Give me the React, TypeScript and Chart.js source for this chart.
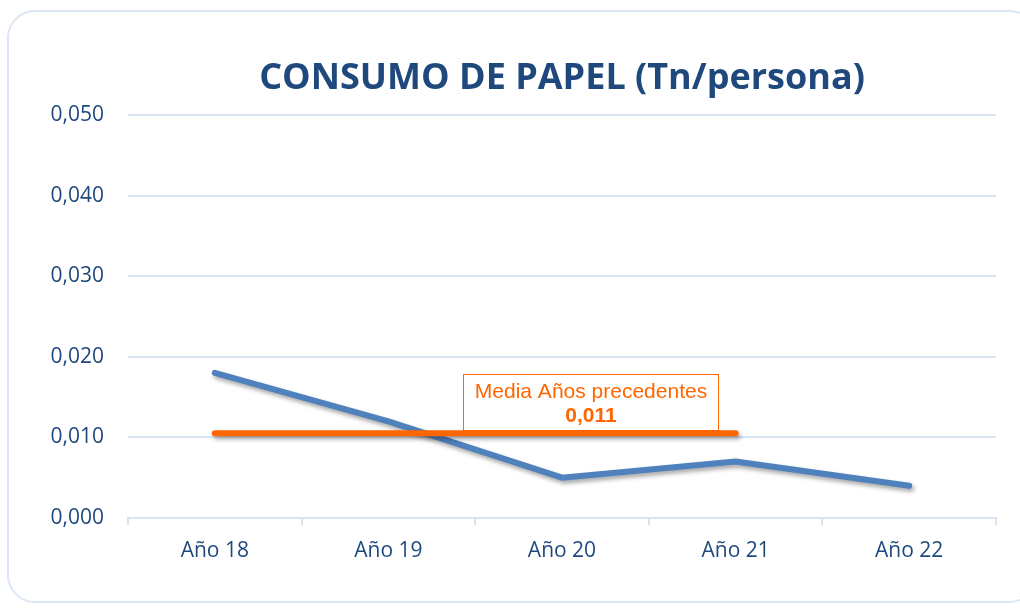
import React, { useEffect, useRef } from "react";
import { Chart, registerables } from "chart.js";

Chart.register(...registerables);

const TITLE = "CONSUMO DE PAPEL (Tn/persona)";
const CATEGORIES = ["Año 18", "Año 19", "Año 20", "Año 21", "Año 22"];
const CONSUMO = [0.018, 0.012, 0.005, 0.007, 0.004];
const MEDIA_VALUE = 0.0105;
const MEDIA = [MEDIA_VALUE, MEDIA_VALUE, MEDIA_VALUE, MEDIA_VALUE, null];
const MEDIA_LABEL_1 = "Media Años precedentes";
const MEDIA_LABEL_2 = "0,011";
const Y_MIN = 0;
const Y_MAX = 0.05;
const Y_STEP = 0.01;

const BLUE = "#4F81BD";
const ORANGE = "#FF6600";
const DARK = "#1F497D";
const GRID = "#D9E4F3";

export default function App() {
  const ref = useRef<HTMLCanvasElement | null>(null);

  useEffect(() => {
    if (!ref.current) return;
    const shadowPlugin = {
      id: "shadow",
      beforeDatasetDraw(chart: any) {
        const ctx = chart.ctx;
        ctx.save();
        ctx.shadowColor = "rgba(0,0,0,0.35)";
        ctx.shadowBlur = 4;
        ctx.shadowOffsetX = 2;
        ctx.shadowOffsetY = 3;
      },
      afterDatasetDraw(chart: any) {
        chart.ctx.restore();
      },
    };
    const decoPlugin = {
      id: "deco",
      afterDraw(chart: any) {
        const ctx = chart.ctx;
        const area = chart.chartArea;
        const xs = chart.scales.x;
        const ys = chart.scales.y;
        ctx.save();
        // title
        ctx.fillStyle = DARK;
        ctx.font = "bold 36px 'Open Sans'";
        ctx.textAlign = "center";
        ctx.textBaseline = "alphabetic";
        ctx.fillText(TITLE, (area.left + area.right) / 2, 89);
        // media label box
        const cx = (xs.getPixelForValue(2) + xs.getPixelForValue(3)) / 2 - 58;
        const lineY = ys.getPixelForValue(MEDIA_VALUE);
        const w = 255;
        const h = 56;
        const bx = Math.round(cx - w / 2) + 0.5;
        const by = Math.round(lineY - 3 - h) + 0.5;
        ctx.fillStyle = "#ffffff";
        ctx.fillRect(bx, by, w, h);
        ctx.strokeStyle = ORANGE;
        ctx.lineWidth = 1;
        ctx.strokeRect(bx, by, w, h);
        ctx.fillStyle = ORANGE;
        ctx.textBaseline = "middle";
        ctx.font = "21px 'Liberation Sans', Arial";
        ctx.fillText(MEDIA_LABEL_1, bx + w / 2, by + 18);
        ctx.font = "bold 21px 'Liberation Sans', Arial";
        ctx.fillText(MEDIA_LABEL_2, bx + w / 2, by + 42);
        ctx.restore();
      },
    };
    const chart = new Chart(ref.current, {
      type: "line",
      data: {
        labels: CATEGORIES,
        datasets: [
          {
            data: CONSUMO,
            borderColor: BLUE,
            borderWidth: 6,
            borderCapStyle: "round",
            borderJoinStyle: "round",
            pointRadius: 0,
            tension: 0,
            order: 2,
          },
          {
            data: MEDIA as any,
            borderColor: ORANGE,
            borderWidth: 6,
            borderCapStyle: "round",
            pointRadius: 0,
            tension: 0,
            spanGaps: false,
            order: 1,
          },
        ],
      },
      options: {
        animation: false,
        responsive: false,
        maintainAspectRatio: false,
        layout: { padding: { top: 115, right: 24, left: 0, bottom: 0 } },
        plugins: {
          legend: { display: false },
          title: { display: false },
          tooltip: { enabled: false },
        },
        scales: {
          x: {
            offset: true,
            grid: {
              offset: true,
              drawOnChartArea: false,
              drawTicks: true,
              tickLength: 7,
              color: GRID,
              lineWidth: 2,
            },
            border: { display: true, color: GRID, width: 2 },
            ticks: {
              color: DARK,
              font: { family: "'Open Sans'", size: 21 },
              padding: 13,
            },
            afterFit(scale: any) {
              scale.height = 91;
            },
          },
          y: {
            min: Y_MIN,
            max: Y_MAX,
            grid: { color: GRID, lineWidth: 2, drawTicks: false },
            border: { display: false },
            ticks: {
              stepSize: Y_STEP,
              color: DARK,
              font: { family: "'Open Sans'", size: 21 },
              padding: 24,
              callback: (v: any) => Number(v).toFixed(3).replace(".", ","),
            },
            afterFit(scale: any) {
              scale.width = 128;
            },
          },
        },
      },
      plugins: [shadowPlugin, decoPlugin],
    } as any);
    return () => chart.destroy();
  }, []);

  return (
    <div style={{ position: "fixed", left: 0, top: 0, width: 1020, height: 609, background: "#fff", overflow: "hidden" }}>
      <div
        style={{
          position: "absolute",
          left: 7,
          top: 10,
          width: 1030,
          height: 593,
          border: "2px solid #DCE7F5",
          borderRadius: 28,
          boxSizing: "border-box",
        }}
      />
      <canvas ref={ref} width={1020} height={609} style={{ position: "absolute", left: 0, top: 0 }} />
    </div>
  );
}
